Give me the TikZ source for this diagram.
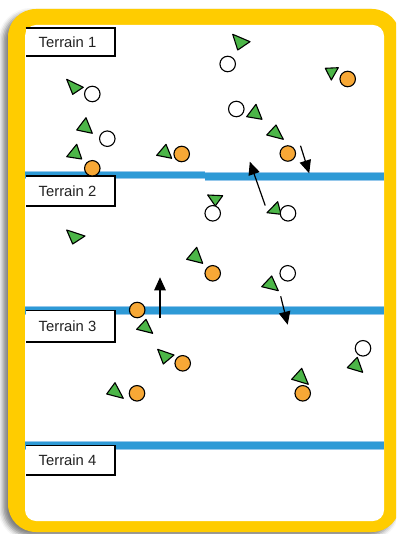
\documentclass[tikz,border=0pt]{standalone}
\usepackage{fontspec}
\setmainfont{Liberation Sans}
\usetikzlibrary{arrows.meta,shadows.blur}

\definecolor{frameyellow}{RGB}{255,204,0}
\definecolor{fieldblue}{RGB}{46,154,214}
\definecolor{fieldbluelight}{RGB}{150,200,235}
\definecolor{teamorange}{RGB}{247,168,54}
\definecolor{teamgreen}{RGB}{76,182,72}
\definecolor{labeltext}{RGB}{34,34,34}

\tikzset{
  boundary/.style={fill=fieldblue},
  labelbox/.style={draw=black, line width=1.1pt, fill=white},
  labeltxt/.style={inner sep=0pt, text=labeltext, font=\fontsize{14.8}{17}\selectfont},
  player/.style={circle, draw=black, line width=1.1pt, minimum size=15.5pt, inner sep=0pt},
  whiteplayer/.style={player, fill=white},
  orangeplayer/.style={player, fill=teamorange},
  cone/.style={fill=teamgreen, draw=black, line width=1.1pt, line join=round},
  move/.style={draw=black, line width=1.2pt, -{Triangle[length=13pt,width=11.5pt]}}
}

\begin{document}
\begin{tikzpicture}[x=1pt,y=-1pt]
\useasboundingbox (0,0) rectangle (396,534);
\clip (0,0) rectangle (396,534);

% yellow card frame with its soft shadow
\fill[frameyellow, rounded corners=28pt,
  blur shadow={shadow xshift=-5pt, shadow yshift=-4pt, shadow blur radius=5pt, shadow opacity=50}]
  (8,9) rectangle (400,532);
\fill[white, rounded corners=11pt] (25,25) rectangle (384,521);

% boundaries between the terrains
\fill[fieldbluelight] (25,171) rectangle (205,179);
\fill[fieldbluelight] (205,172.5) rectangle (384,181);
\fill[boundary] (25,171.7) rectangle (205,178.3);
\fill[boundary] (205,173.3) rectangle (384,180.3);
\fill[fieldbluelight] (25,306) rectangle (384,315);
\fill[boundary] (25,306.7) rectangle (384,314);
\fill[fieldbluelight] (25,441) rectangle (384,449.5);
\fill[boundary] (25,441.7) rectangle (384,448.5);

% terrain labels, open on the card edge
\filldraw[labelbox] (25.5,28) -- (115,28) -- (115,56) -- (25.5,56);
\node[labeltxt] (t1) at (67.5,42) {Terrain 1};
\filldraw[labelbox] (25.5,176) -- (115,176) -- (115,206) -- (25.5,206);
\node[labeltxt] (t2) at (67.5,191) {Terrain 2};
\filldraw[labelbox] (25.5,310.5) -- (115,310.5) -- (115,342) -- (25.5,342);
\node[labeltxt] (t3) at (67.5,326) {Terrain 3};
\filldraw[labelbox] (25.5,445.7) -- (115,445.7) -- (115,475) -- (25.5,475);
\node[labeltxt] (t4) at (67.5,460.5) {Terrain 4};

% cones
\draw[cone] (66.7,79.3) -- (83.3,87.3) -- (72.7,94.3) -- cycle;
\draw[cone] (86,117.7) -- (76.7,130) -- (92.3,133.3) -- cycle;
\draw[cone] (76.7,144.3) -- (66.7,156.7) -- (81.7,159) -- cycle;
\draw[cone] (166,144.3) -- (156.7,155.3) -- (171.7,158.3) -- cycle;
\draw[cone] (232.7,34.3) -- (250,41.7) -- (237.7,50) -- cycle;
\draw[cone] (325.3,68.3) -- (338.3,67.7) -- (331.3,80) -- cycle;
\draw[cone] (256,104.3) -- (246.7,116.7) -- (262,119.3) -- cycle;
\draw[cone] (276,125) -- (266.7,135) -- (283.3,139.3) -- cycle;
\draw[cone] (207.7,195) -- (222.7,195.7) -- (215.3,206) -- cycle;
\draw[cone] (277.7,201.7) -- (267,212.7) -- (281,214.3) -- cycle;
\draw[cone] (196.7,247.3) -- (186.7,259.3) -- (202.7,263.3) -- cycle;
\draw[cone] (271.7,276) -- (261.7,286.7) -- (278.3,290.7) -- cycle;
\draw[cone] (66.7,230) -- (85,236) -- (72.7,244) -- cycle;
\draw[cone] (146,319.3) -- (136.7,329.3) -- (152.7,333.3) -- cycle;
\draw[cone] (157.7,349.3) -- (174,355) -- (163.3,364) -- cycle;
\draw[cone] (115,382.7) -- (106.7,394) -- (123.3,398.3) -- cycle;
\draw[cone] (357.3,357.3) -- (347.3,367.7) -- (362.7,372.3) -- cycle;
\draw[cone] (301.7,368.3) -- (291.7,379.3) -- (308.3,384.3) -- cycle;

% players
\node[whiteplayer] (w1) at (92.3,94) {};
\node[whiteplayer] (w2) at (107.3,138.7) {};
\node[whiteplayer] (w3) at (227.7,64) {};
\node[whiteplayer] (w4) at (236.3,109) {};
\node[whiteplayer] (w5) at (212.7,213.3) {};
\node[whiteplayer] (w6) at (288,213.3) {};
\node[whiteplayer] (w7) at (287.7,273.3) {};
\node[whiteplayer] (w8) at (363,348.3) {};

\node[orangeplayer] (o1) at (92.3,168.3) {};
\node[orangeplayer] (o2) at (181.7,154) {};
\node[orangeplayer] (o3) at (347.7,79) {};
\node[orangeplayer] (o4) at (287.8,153.5) {};
\node[orangeplayer] (o5) at (212.7,273.3) {};
\node[orangeplayer] (o6) at (137.2,310) {};
\node[orangeplayer] (o7) at (182.7,363.3) {};
\node[orangeplayer] (o8) at (137,393.3) {};
\node[orangeplayer] (o9) at (302.7,393.3) {};

% runs
\coordinate (r1s) at (300.5,145.7);
\coordinate (r1e) at (309.2,173.3);
\coordinate (r2s) at (265.2,205.5);
\coordinate (r2e) at (249.8,161.7);
\coordinate (r3s) at (160,318.3);
\coordinate (r3e) at (160,277.3);
\coordinate (r4s) at (280.7,296.3);
\coordinate (r4e) at (287.7,324.7);
\draw[move] (r1s) -- (r1e);
\draw[move] (r2s) -- (r2e);
\draw[move] (r3s) -- (r3e);
\draw[move] (r4s) -- (r4e);
\end{tikzpicture}
\end{document}
